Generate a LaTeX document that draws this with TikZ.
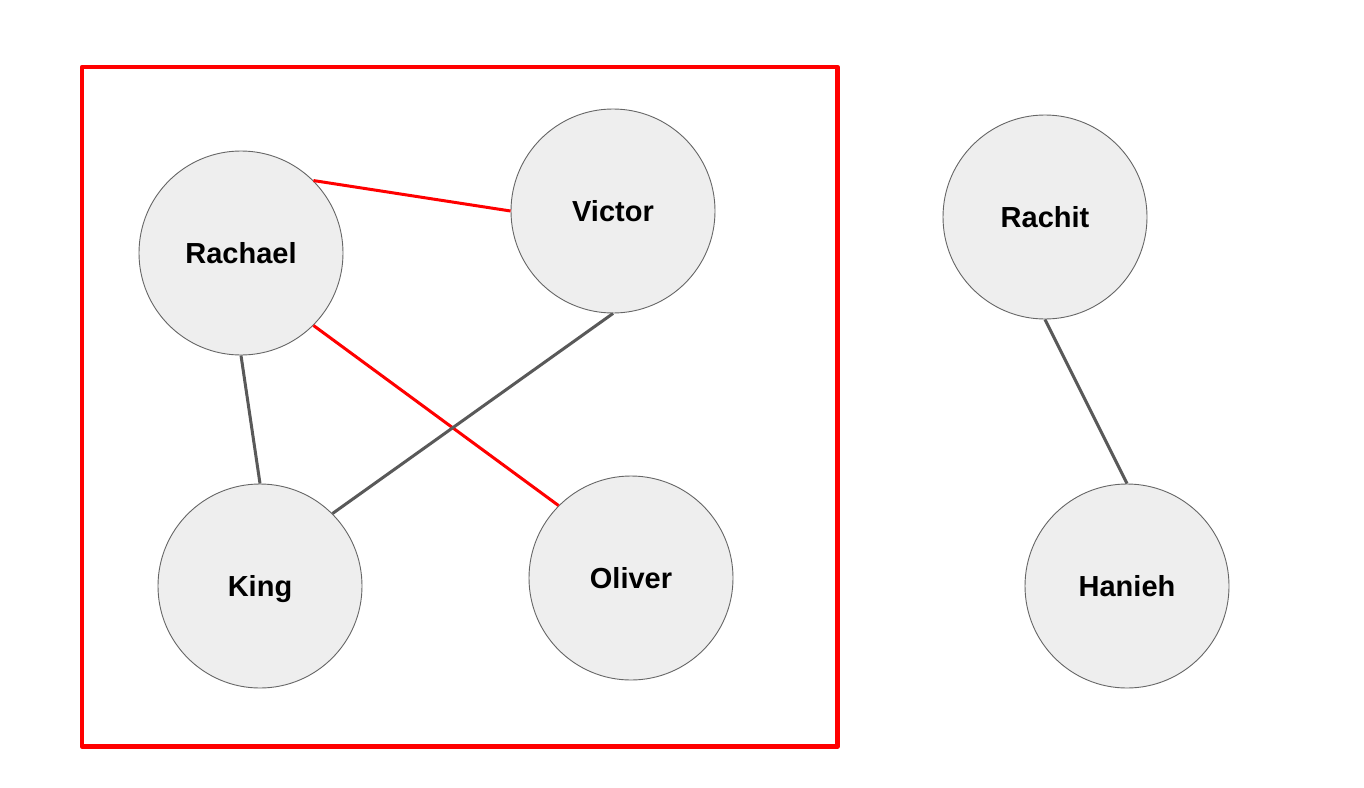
\documentclass[tikz,border=0pt]{standalone}
\usepackage{fontspec}
\setmainfont{Liberation Sans}
\definecolor{nodefill}{HTML}{EEEEEE}
\definecolor{nodeline}{HTML}{666666}
\definecolor{edgegray}{HTML}{595959}
\definecolor{groupred}{HTML}{FF0000}
\begin{document}
\begin{tikzpicture}[x=1pt,y=-1pt,
  person/.style={circle,minimum size=204pt,inner sep=0pt,fill=nodefill,draw=nodeline,line width=0.9pt,
    text height=20.7pt,text depth=0pt,
    font=\fontsize{29}{34}\selectfont\bfseries},
  redlink/.style={draw=groupred,line width=3pt},
  graylink/.style={draw=edgegray,line width=3pt},
  groupbox/.style={draw=groupred,line width=4.5pt,line join=round}]
\useasboundingbox (0,0) rectangle (1364,787);
\fill[white] (0,0) rectangle (1364,787);
\draw[groupbox] (82,67) rectangle (837.5,746.5);
\node[person] (rachael) at (241,253) {Rachael};
\node[person] (victor) at (613,211) {Victor};
\node[person] (king) at (260,586) {King};
\node[person] (oliver) at (631,578) {Oliver};
\node[person] (rachit) at (1045,217) {Rachit};
\node[person] (hanieh) at (1127,586) {Hanieh};
\draw[redlink] (rachael.45) -- (victor.180);
\draw[redlink] (rachael.-45) -- (oliver.135);
\draw[graylink] (rachael.south) -- (king.north);
\draw[graylink] (victor.south) -- (king.45);
\draw[graylink] (rachit.south) -- (hanieh.north);
\end{tikzpicture}
\end{document}
